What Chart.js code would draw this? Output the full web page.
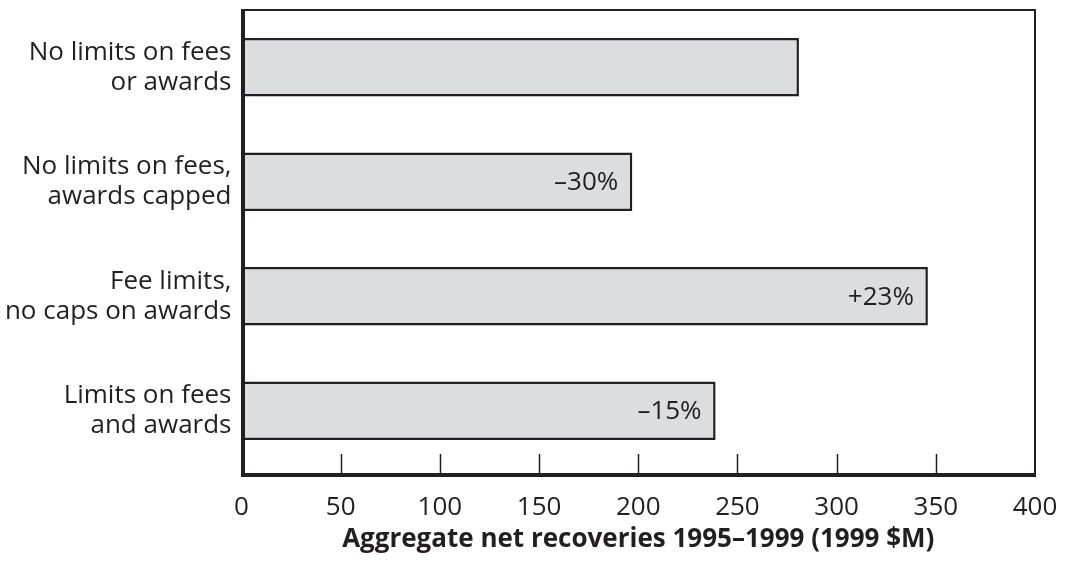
<!DOCTYPE html>
<html>
<head>
<meta charset="utf-8">
<script src="https://cdn.jsdelivr.net/npm/chart.js@4"></script>
<style>
  html, body { margin: 0; padding: 0; background: #fff; }
  #wrap { width: 1065px; height: 564px; }
</style>
</head>
<body>
<div id="wrap"><canvas id="chart" width="1065" height="564"></canvas></div>
<script>
// data
const categories = [
  ['No limits on fees', 'or awards'],
  ['No limits on fees,', 'awards capped'],
  ['Fee limits,', 'no caps on awards'],
  ['Limits on fees', 'and awards']
];
const recoveries = [281, 197, 346, 239];
const changeLabels = ['', '\u201330%', '+23%', '\u201315%'];
const xTicks = [0, 50, 100, 150, 200, 250, 300, 350, 400];
const xTitle = 'Aggregate net recoveries 1995\u20131999 (1999 $M)';

const ink = '#231f20';
const font = 'Open Sans';

// frame, inner ticks and the % labels inside bars
const framePlugin = {
  id: 'frame',
  afterDatasetsDraw(chart) {
    const ctx = chart.ctx;
    const area = chart.chartArea;
    const x = chart.scales.x;
    const axisY = area.bottom + 7;
    ctx.save();
    ctx.strokeStyle = ink;
    ctx.lineCap = 'butt';

    // thin top and right border
    ctx.lineWidth = 2;
    ctx.beginPath();
    ctx.moveTo(area.left, area.top);
    ctx.lineTo(area.right, area.top);
    ctx.lineTo(area.right, axisY);
    ctx.stroke();

    // tick marks pointing up from the bottom axis
    ctx.lineWidth = 1.5;
    xTicks.slice(1, -1).forEach(v => {
      const px = Math.round(x.getPixelForValue(v)) + 0.5;
      ctx.beginPath();
      ctx.moveTo(px, axisY);
      ctx.lineTo(px, axisY - 21);
      ctx.stroke();
    });

    // thick left and bottom axis
    ctx.lineWidth = 4;
    ctx.beginPath();
    ctx.moveTo(area.left + 1.5, area.top - 1);
    ctx.lineTo(area.left + 1.5, axisY);
    ctx.lineTo(area.right + 1, axisY);
    ctx.stroke();

    // change labels
    const meta = chart.getDatasetMeta(0);
    ctx.fillStyle = ink;
    ctx.font = '26px "' + font + '"';
    ctx.textAlign = 'right';
    ctx.textBaseline = 'middle';
    meta.data.forEach((bar, i) => {
      if (changeLabels[i]) ctx.fillText(changeLabels[i], bar.x - 14, bar.y + 1);
    });
    ctx.restore();
  }
};

new Chart(document.getElementById('chart'), {
  type: 'bar',
  data: {
    labels: categories,
    datasets: [{
      data: recoveries,
      backgroundColor: '#dcdddf',
      borderColor: ink,
      borderWidth: 2.5,
      borderSkipped: false,
      barPercentage: 0.51,
      categoryPercentage: 1
    }]
  },
  options: {
    indexAxis: 'y',
    responsive: false,
    animation: false,
    layout: { padding: { top: 10, right: 30, left: 0, bottom: 0 } },
    plugins: {
      legend: { display: false },
      tooltip: { enabled: false }
    },
    scales: {
      x: {
        min: 0,
        max: 400,
        afterFit(scale) {
          scale.height = 96;
          scale.paddingLeft = 0;
          scale.paddingRight = 0;
        },
        afterBuildTicks(scale) { scale.ticks = xTicks.map(v => ({ value: v })); },
        grid: { display: false, drawTicks: false },
        border: { display: false },
        ticks: {
          color: ink,
          padding: 24,
          maxRotation: 0,
          font: { family: font, size: 26 }
        },
        title: {
          display: true,
          text: xTitle,
          color: ink,
          padding: { top: 0, bottom: 9 },
          font: { family: font, size: 26, weight: 'bold' }
        }
      },
      y: {
        afterFit(scale) {
          scale.width = 241.5;
          scale.paddingTop = 0;
          scale.paddingBottom = 0;
        },
        grid: { display: false, drawTicks: false },
        border: { display: false },
        ticks: {
          color: ink,
          padding: 10,
          font: { family: font, size: 26, lineHeight: 1.15 }
        }
      }
    }
  },
  plugins: [framePlugin]
});
</script>
</body>
</html>
